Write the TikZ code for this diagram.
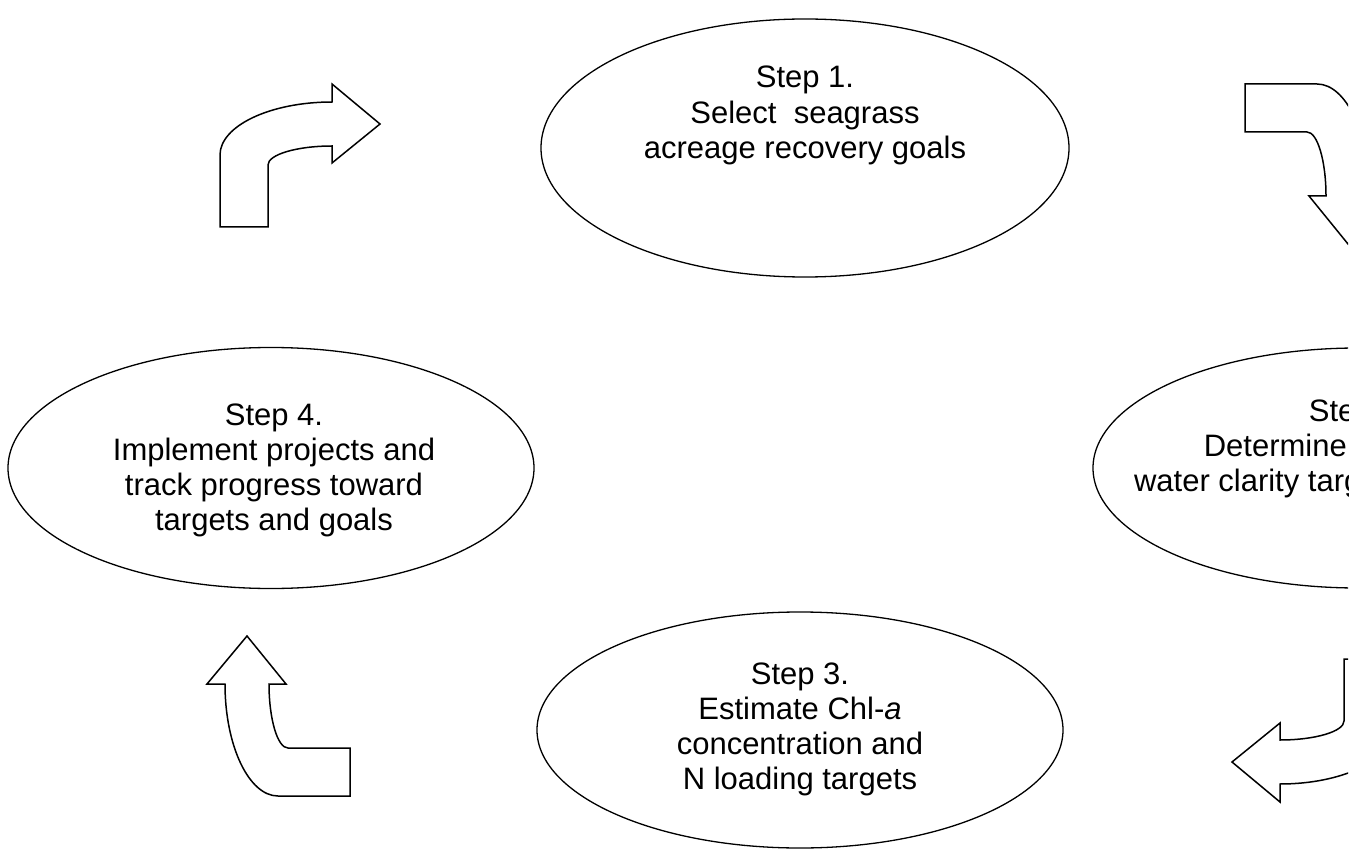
\documentclass[tikz,border=0pt]{standalone}
\usepackage{fontspec}
\setmainfont{Liberation Sans}
\usetikzlibrary{shapes.geometric}
\tikzset{
  stepoval/.style={ellipse, draw=black, line width=1.3pt, inner sep=0pt, fill=none},
  steptext/.style={align=center, inner sep=0pt, font=\fontsize{31}{35}\selectfont},
  bentarrow/.style={draw=black, line width=1.5pt, line join=miter, fill=white},
}
\newcommand{\bentarrowpath}{%
  (0,0) -- (0,-72) .. controls (0,-101) and (50,-125) .. (112,-125)
  -- (112,-143) -- (160,-103) -- (112,-64) -- (112,-81)
  .. controls (77,-81) and (48,-72.5) .. (48,-62) -- (48,0) -- cycle}
\begin{document}
\begin{tikzpicture}[x=1pt, y=-1pt]
\useasboundingbox (0,0) rectangle (1355,850);
\fill[white] (0,0) rectangle (1355,850);
\clip (0,0) rectangle (1348,850);
% ovals
\node[stepoval, minimum width=528pt, minimum height=258pt] (s1) at (805,148) {};
\node[stepoval, minimum width=530pt, minimum height=240pt] (s2) at (1358,468) {};
\node[stepoval, minimum width=526pt, minimum height=236pt] (s3) at (800,730) {};
\node[stepoval, minimum width=526pt, minimum height=241pt] (s4) at (271,468) {};
% texts
\node[steptext] (t1) at (805,115) {Step 1.\\[1pt]Select\ \ seagrass\\acreage recovery goals};
\node[steptext] (t2) at (1358,449) {Step 2.\\Determine appropriate\\water clarity targets for seagrass};
\node[steptext] (t3) at (800,729) {Step 3.\\Estimate Chl-\textit{a}\\concentration and\\N loading targets};
\node[steptext] (t4) at (274,470) {Step 4.\\Implement projects and\\track progress toward\\targets and goals};
% bent arrows
\begin{scope}[shift={(220,227)}]
  \path[bentarrow] \bentarrowpath;
\end{scope}
\begin{scope}[shift={(1245,84)}, rotate=-90]
  \path[bentarrow] \bentarrowpath;
\end{scope}
\begin{scope}[shift={(1392,659)}, rotate=180]
  \path[bentarrow] \bentarrowpath;
\end{scope}
\begin{scope}[shift={(350,796)}, rotate=90]
  \path[bentarrow] \bentarrowpath;
\end{scope}
\end{tikzpicture}
\end{document}
